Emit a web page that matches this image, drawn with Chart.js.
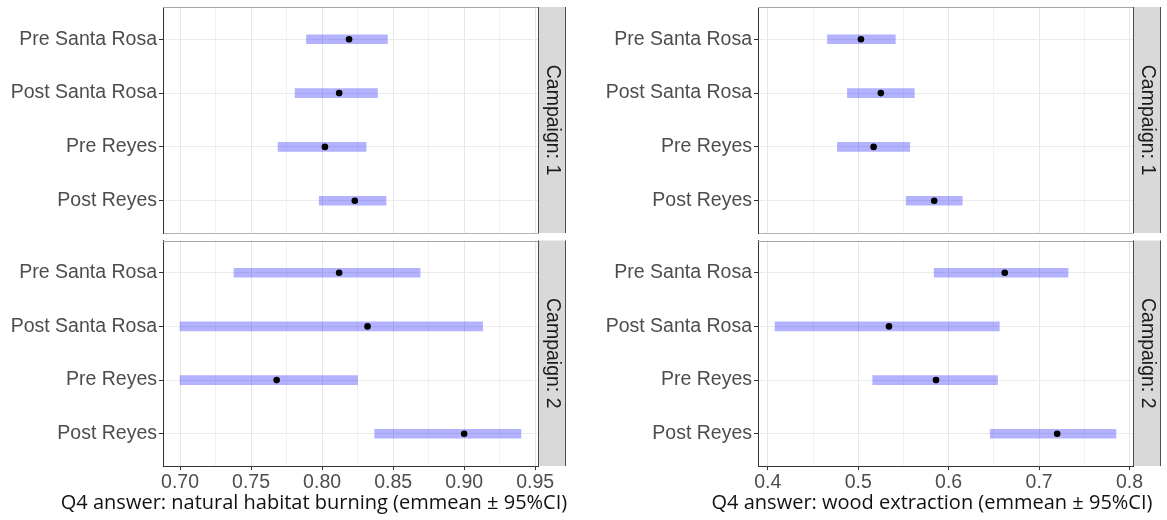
<!DOCTYPE html>
<html>
<head>
<meta charset="utf-8">
<title>Q4 answers by campaign</title>
<script src="https://cdn.jsdelivr.net/npm/chart.js@4.4.1/dist/chart.umd.min.js"></script>
<style>
  html, body { margin: 0; padding: 0; background: #fff; }
  #wrap { position: relative; width: 1167px; height: 520px; overflow: hidden; }
  #wrap canvas { position: absolute; }
  .xtitle {
    position: absolute; top: 490px; white-space: nowrap;
    font-family: "Open Sans", "Noto Sans", sans-serif; font-size: 20px; line-height: 24px;
    color: #111; transform: translateX(-50%);
  }
</style>
</head>
<body>
<div id="wrap">
  <canvas id="habitat1" width="570" height="237" style="left:0;top:0"></canvas>
  <canvas id="habitat2" width="570" height="263" style="left:0;top:232px"></canvas>
  <canvas id="wood1" width="570" height="237" style="left:595px;top:0"></canvas>
  <canvas id="wood2" width="570" height="263" style="left:595px;top:232px"></canvas>
  <div class="xtitle" style="left:314px">Q4 answer: natural habitat burning (emmean ± 95%CI)</div>
  <div class="xtitle" style="left:932px">Q4 answer: wood extraction (emmean ± 95%CI)</div>
</div>
<script>
// emmeans with 95% CI
const categories = ["Pre Santa Rosa", "Post Santa Rosa", "Pre Reyes", "Post Reyes"];

// natural habitat burning
const habitatC1Mean = [0.819, 0.812, 0.802, 0.823];
const habitatC1Low  = [0.789, 0.781, 0.769, 0.798];
const habitatC1High = [0.846, 0.839, 0.831, 0.845];
const habitatC2Mean = [0.812, 0.832, 0.768, 0.900];
const habitatC2Low  = [0.738, 0.700, 0.700, 0.837];
const habitatC2High = [0.869, 0.913, 0.825, 0.940];

// wood extraction
const woodC1Mean = [0.503, 0.525, 0.517, 0.584];
const woodC1Low  = [0.466, 0.488, 0.477, 0.553];
const woodC1High = [0.541, 0.562, 0.557, 0.615];
const woodC2Mean = [0.662, 0.534, 0.586, 0.720];
const woodC2Low  = [0.584, 0.408, 0.516, 0.646];
const woodC2High = [0.732, 0.656, 0.654, 0.785];

// axis ticks
const habitatTicks = [0.70, 0.75, 0.80, 0.85, 0.90, 0.95];
const habitatTickLabels = ["0.70", "0.75", "0.80", "0.85", "0.90", "0.95"];
const habitatMinor = [0.725, 0.775, 0.825, 0.875, 0.925];
const woodTicks = [0.4, 0.5, 0.6, 0.7, 0.8];
const woodTickLabels = ["0.4", "0.5", "0.6", "0.7", "0.8"];
const woodMinor = [0.45, 0.55, 0.65, 0.75];

Chart.defaults.font.family = '"Liberation Sans", Arial, sans-serif';
const labelFont = { family: '"Liberation Sans", Arial, sans-serif', size: 19.5 };

// ggplot-like 5% expansion of the shared x range
function expandRange(lows, highs){
  const lo = Math.min(...lows), hi = Math.max(...highs);
  const pad = (hi - lo) * 0.05;
  return [lo - pad, hi + pad];
}

function findTick(list, v){
  return list.findIndex(t => Math.abs(t - v) < 1e-9);
}

// grey strip on the right of each facet + panel top border
const facetStrip = {
  id: "facetStrip",
  afterDraw(chart, args, opts){
    const { ctx, chartArea: a } = chart;
    ctx.save();
    ctx.strokeStyle = "#A6A6A6";
    ctx.lineWidth = 1;
    ctx.beginPath();
    ctx.moveTo(a.left, Math.round(a.top) + 0.5);
    ctx.lineTo(a.right, Math.round(a.top) + 0.5);
    ctx.stroke();

    const x0 = Math.round(a.right), w = 28;
    ctx.fillStyle = "#D9D9D9";
    ctx.fillRect(x0, a.top, w, a.bottom - a.top);
    ctx.strokeStyle = "#4D4D4D";
    ctx.beginPath();
    ctx.moveTo(x0 + 0.5, a.top); ctx.lineTo(x0 + 0.5, a.bottom);
    ctx.moveTo(x0 + w - 0.5, a.top); ctx.lineTo(x0 + w - 0.5, a.bottom);
    ctx.stroke();

    ctx.translate(x0 + w / 2, (a.top + a.bottom) / 2);
    ctx.rotate(Math.PI / 2);
    ctx.fillStyle = "#1A1A1A";
    ctx.font = '19.5px "Liberation Sans", Arial, sans-serif';
    ctx.textAlign = "center";
    ctx.textBaseline = "middle";
    ctx.fillText(opts.label, 0, 0);
    ctx.restore();
  }
};

function makeFacet(id, f){
  const gridValues = f.ticks.concat(f.minor).sort((a, b) => a - b);
  return new Chart(document.getElementById(id), {
    type: "bar",
    data: {
      datasets: [
        {
          type: "scatter",
          data: f.mean.map((m, i) => ({ x: m, y: i + 1 })),
          backgroundColor: "#000",
          pointRadius: 3.3,
          pointBorderWidth: 0,
          order: 0
        },
        {
          type: "bar",
          indexAxis: "y",
          data: f.low.map((lo, i) => ({ x: [lo, f.high[i]], y: i + 1 })),
          backgroundColor: "rgba(0,0,255,0.3)",
          borderWidth: 0,
          barThickness: 9,
          order: 1
        }
      ]
    },
    options: {
      responsive: false,
      animation: false,
      devicePixelRatio: 1,
      indexAxis: "y",
      events: [],
      layout: { padding: { left: 0, top: f.padTop, right: 32, bottom: f.padBottom } },
      plugins: { legend: { display: false }, tooltip: { enabled: false }, facetStrip: { label: f.strip } },
      scales: {
        x: {
          type: "linear",
          min: f.range[0],
          max: f.range[1],
          offset: false,
          afterBuildTicks: (axis) => { axis.ticks = gridValues.map(v => ({ value: v })); },
          afterFit: (axis) => {
            axis.height = f.xHeight;
            axis.paddingLeft = 0; axis.paddingRight = 0;
          },
          ticks: {
            display: f.showX,
            autoSkip: false,
            maxRotation: 0,
            padding: 1,
            color: "#4D4D4D",
            font: labelFont,
            callback: (v) => { const i = findTick(f.ticks, v); return i >= 0 ? f.tickLabels[i] : ""; }
          },
          grid: {
            offset: false,
            color: (c) => findTick(f.ticks, c.tick.value) >= 0 ? "#E6E6E6" : "#F2F2F2",
            drawTicks: f.showX,
            tickLength: 4,
            tickColor: (c) => findTick(f.ticks, c.tick.value) >= 0 ? "#333" : "rgba(0,0,0,0)"
          },
          border: { color: f.showX ? "#333" : "#B3B3B3", width: 1 }
        },
        y: {
          type: "linear",
          reverse: true,
          min: 0.4,
          max: 4.6,
          offset: false,
          afterBuildTicks: (axis) => { axis.ticks = categories.map((c, i) => ({ value: i + 1 })); },
          afterFit: (axis) => {
            axis.width = 163;
            axis.paddingTop = 0; axis.paddingBottom = 0;
          },
          ticks: {
            autoSkip: false,
            padding: 2,
            color: "#4D4D4D",
            font: labelFont,
            callback: (v) => categories[v - 1] || ""
          },
          grid: { offset: false, color: "#EBEBEB", tickColor: "#333", tickLength: 4 },
          border: { color: "#333", width: 1 }
        }
      }
    },
    plugins: [facetStrip]
  });
}

const habitatRange = expandRange(habitatC1Low.concat(habitatC2Low), habitatC1High.concat(habitatC2High));
const woodRange = expandRange(woodC1Low.concat(woodC2Low), woodC1High.concat(woodC2High));

const habitatAxis = { range: habitatRange, ticks: habitatTicks, tickLabels: habitatTickLabels, minor: habitatMinor };
const woodAxis = { range: woodRange, ticks: woodTicks, tickLabels: woodTickLabels, minor: woodMinor };
const topFacet = { padTop: 7, padBottom: 0, xHeight: 0, showX: false, strip: "Campaign: 1" };
const bottomFacet = { padTop: 8.5, padBottom: 0, xHeight: 29, showX: true, strip: "Campaign: 2" };

makeFacet("habitat1", { ...habitatAxis, ...topFacet, mean: habitatC1Mean, low: habitatC1Low, high: habitatC1High });
makeFacet("habitat2", { ...habitatAxis, ...bottomFacet, mean: habitatC2Mean, low: habitatC2Low, high: habitatC2High });
makeFacet("wood1", { ...woodAxis, ...topFacet, mean: woodC1Mean, low: woodC1Low, high: woodC1High });
makeFacet("wood2", { ...woodAxis, ...bottomFacet, mean: woodC2Mean, low: woodC2Low, high: woodC2High });
</script>
</body>
</html>
